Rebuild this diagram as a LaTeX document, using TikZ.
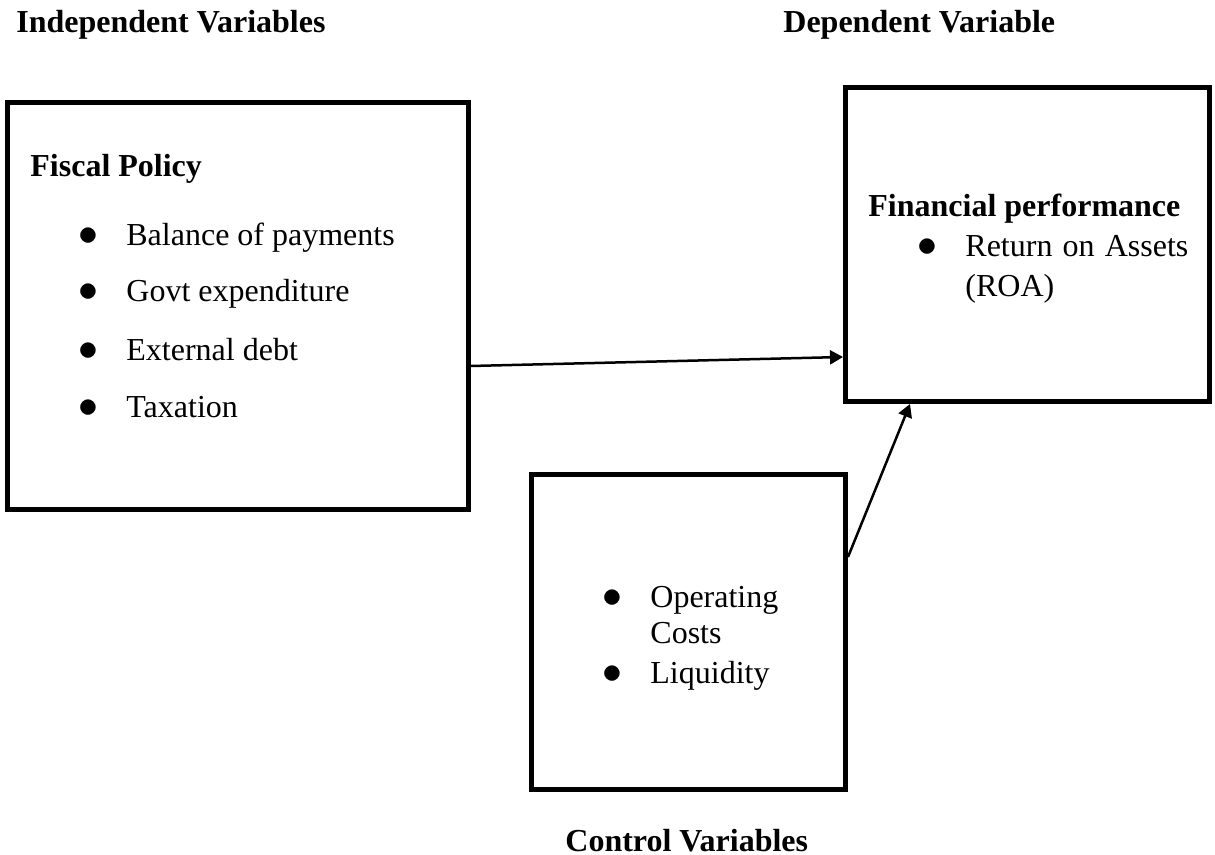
\documentclass[tikz,border=0pt]{standalone}
\usepackage{fontspec}
\setmainfont{Liberation Serif}
\usepackage{tikz}
\usetikzlibrary{positioning,arrows.meta}
\newcommand{\bul}{\makebox[24pt][l]{\scalebox{1.15}{$\bullet$}}}

\begin{document}
\begin{tikzpicture}[x=0.5pt, y=-0.5pt,
   box/.style={draw, line width=2.5pt, inner sep=0pt},
   txt/.style={anchor=base west, inner sep=0pt, font=\fontsize{16pt}{19pt}\selectfont},
   head/.style={txt, font=\fontsize{16pt}{19pt}\selectfont\bfseries},
   link/.style={->, line width=1.25pt},
   >={Triangle[length=6.5pt, width=7pt]}]
  \useasboundingbox (0,0) rectangle (1215,855);
  \node[head] (indep) at (16,33) {Independent Variables};
  \node[head] (dep) at (783,33) {Dependent Variable};
  % independent variables
  \node[box, minimum width=230.25pt, minimum height=203.5pt] (fiscal) at (237.75,306) {};
  \node[head] (fiscaltitle) at (30,177) {Fiscal Policy};
  \node[txt] (bop) at (78,245.7) {\bul Balance of payments};
  \node[txt] (govt) at (78,301.7) {\bul Govt expenditure};
  \node[txt] (debt) at (78,361) {\bul External debt};
  \node[txt] (tax) at (78,418) {\bul Taxation};
  % dependent variable
  \node[box, minimum width=182pt, minimum height=157pt] (finperf) at (1027.5,244.5) {};
  \node[head] (fintitle) at (868,217) {Financial performance};
  \node[txt] (roa) at (917,257) {\bul\makebox[111.5pt][s]{Return on Assets}};
  \node[txt] (roa2) at (965,297) {(ROA)};
  % control variables
  \node[box, minimum width=157pt, minimum height=157.5pt] (control) at (688.5,632) {};
  \node[txt] (opcost) at (602,607.7) {\bul Operating};
  \node[txt] (opcost2) at (650,643) {Costs};
  \node[txt] (liq) at (602,683) {\bul Liquidity};
  \node[head] (ctrl) at (565,851) {Control Variables};
  \draw[link] ([yshift=-30pt]fiscal.east) -- ([yshift=-56.25pt]finperf.west);
  \draw[link] ([yshift=37.5pt]control.east) -- ([xshift=-58.75pt]finperf.south);
\end{tikzpicture}
\end{document}
